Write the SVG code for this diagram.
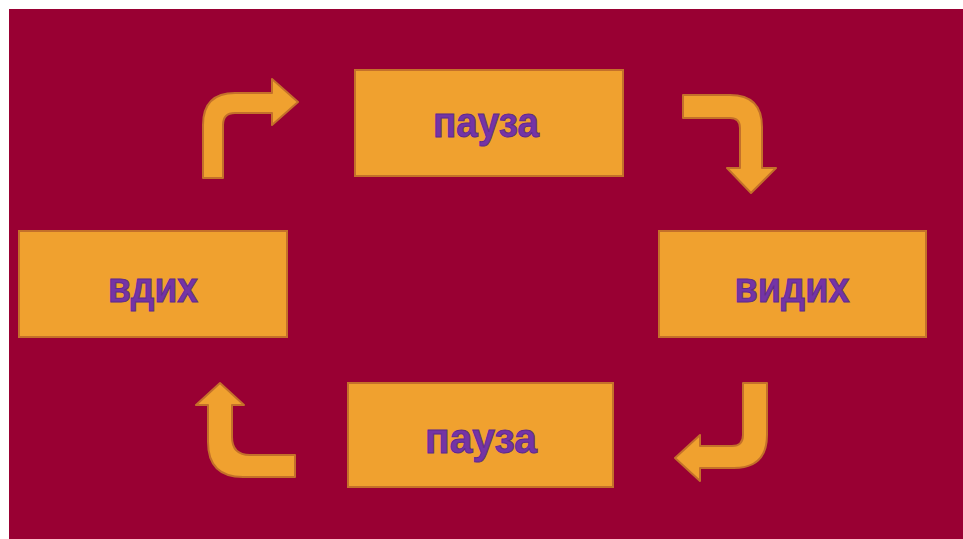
<svg xmlns="http://www.w3.org/2000/svg" width="963" height="539" viewBox="0 0 963 539">
  <style>
    .box { fill: #f0a12f; stroke: #c4702a; stroke-width: 2; }
    .arrow { fill: #f0a12f; stroke: #c4702a; stroke-width: 2; stroke-linejoin: round; }
    .label { font-family: "Liberation Sans", Arial, sans-serif; font-weight: bold; font-size: 42px; fill: #7434a6; stroke: #5e2a8c; stroke-width: 1; text-anchor: middle; }
  </style>
  <rect x="0" y="0" width="963" height="539" fill="#ffffff"/>
  <rect x="9" y="9" width="954" height="530" fill="#990033"/>

  <g id="node-pause-top">
    <rect class="box" x="355" y="70" width="268" height="106"/>
    <text class="label" x="486" y="137" textLength="106" lengthAdjust="spacingAndGlyphs">пауза</text>
  </g>
  <g id="node-exhale">
    <rect class="box" x="659" y="231" width="267" height="106"/>
    <text class="label" x="792" y="302" textLength="115" lengthAdjust="spacingAndGlyphs">видих</text>
  </g>
  <g id="node-pause-bottom">
    <rect class="box" x="348" y="383" width="265" height="104"/>
    <text class="label" x="481" y="453" textLength="112" lengthAdjust="spacingAndGlyphs">пауза</text>
  </g>
  <g id="node-inhale">
    <rect class="box" x="19" y="231" width="268" height="106"/>
    <text class="label" x="153" y="302" textLength="90" lengthAdjust="spacingAndGlyphs">вдих</text>
  </g>

  <g id="connectors">
    <!-- вдих -> пауза (top) -->
    <path class="arrow" d="M203,178 L203,125 Q203,93 235,93 L272,93 L272,79 L298,102 L272,125 L272,113 L235,113 Q223,113 223,125 L223,178 Z"/>
    <!-- пауза (top) -> видих -->
    <path class="arrow" d="M683,95 L730,95 Q762,95 762,127 L762,168 L776,168 L751,193 L727,168 L740,168 L740,128 Q740,118 730,118 L683,118 Z"/>
    <!-- видих -> пауза (bottom) -->
    <path class="arrow" d="M743,383 L767,383 L767,435 Q767,468 734,468 L700,468 L700,481 L675,458 L700,435 L700,446 L732,446 Q743,446 743,435 Z"/>
    <!-- пауза (bottom) -> вдих -->
    <path class="arrow" d="M295,455 L250,455 Q232,455 232,437 L232,405 L244,405 L220,383 L196,405 L208,405 L208,442 Q208,477 243,477 L295,477 Z"/>
  </g>
</svg>
